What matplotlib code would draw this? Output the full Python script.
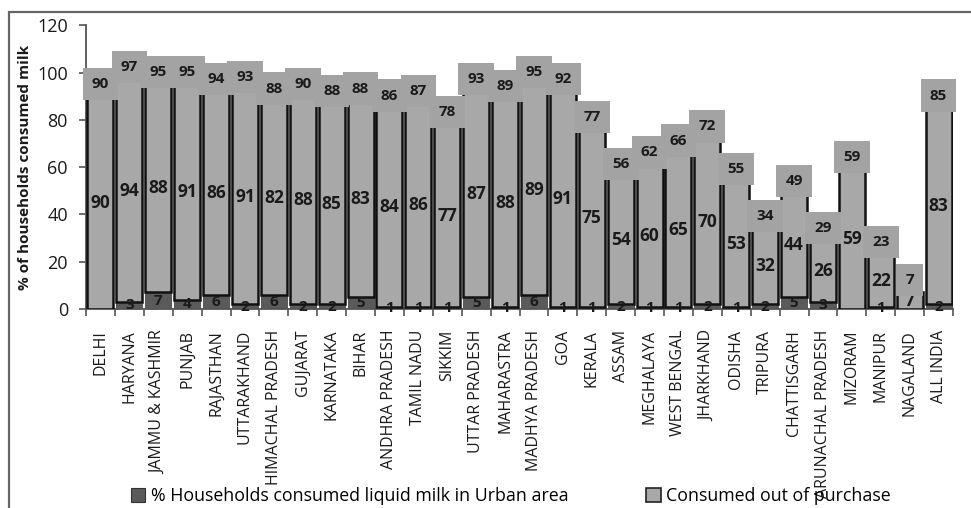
import matplotlib
matplotlib.use("Agg")
import matplotlib.pyplot as plt
import numpy as np
from matplotlib.patches import Rectangle, Patch

plt.rcParams['font.family'] = ['Open Sans', 'DejaVu Sans']

states = ["DELHI", "HARYANA", "JAMMU & KASHMIR", "PUNJAB", "RAJASTHAN", "UTTARAKHAND",
          "HIMACHAL PRADESH", "GUJARAT", "KARNATAKA", "BIHAR", "ANDHRA PRADESH", "TAMIL NADU",
          "SIKKIM", "UTTAR PRADESH", "MAHARASTRA", "MADHYA PRADESH", "GOA", "KERALA", "ASSAM",
          "MEGHALAYA", "WEST BENGAL", "JHARKHAND", "ODISHA", "TRIPURA", "CHATTISGARH",
          "ARUNACHAL PRADESH", "MIZORAM", "MANIPUR", "NAGALAND", "ALL INDIA"]
urban = [0, 3, 7, 4, 6, 2, 6, 2, 2, 5, 1, 1, 1, 5, 1, 6, 1, 1, 2, 1, 1, 2, 1, 2, 5, 3, 0, 1, 0, 2]
purchase = [90, 94, 88, 91, 86, 91, 82, 88, 85, 83, 84, 86, 77, 87, 88, 89, 91, 75, 54, 60,
            65, 70, 53, 32, 44, 26, 59, 22, 7, 83]
totals = [90, 97, 95, 95, 94, 93, 88, 90, 88, 88, 86, 87, 78, 93, 89, 95, 92, 77, 56, 62,
          66, 72, 55, 34, 49, 29, 59, 23, 7, 85]
yticks = [0, 20, 40, 60, 80, 100, 120]

dark = "#5a5a5a"
light = "#a8a8a8"
boxc = "#a3a3a3"
txt = "#1a1a1a"

fig = plt.figure(figsize=(9.71, 5.08), dpi=100)
ax = fig.add_axes([86/971, 1-309/508, 867/971, (309-25.4)/508])

x = np.arange(len(states))
u = np.array(urban, dtype=float)
p = np.array(purchase, dtype=float)
w = 0.9
ax.bar(x, u, width=w, color=dark, edgecolor=dark, linewidth=0.8, zorder=2)
ax.bar(x, p, width=w, bottom=u, color=light, edgecolor="#111111", linewidth=1.8, zorder=3)

for i in range(len(states)):
    if urban[i] > 0:
        ax.text(x[i], u[i]/2, str(urban[i]), ha='center', va='center', fontsize=11,
                fontweight='bold', color=txt, zorder=5)
    ax.text(x[i], u[i] + p[i]/2, str(purchase[i]), ha='center', va='center', fontsize=12.5,
            fontweight='bold', color=txt, zorder=5)
    ax.annotate(str(totals[i]), (x[i], u[i] + p[i]), xytext=(0, 9), textcoords='offset points',
                ha='center', va='center', fontsize=11, fontweight='bold', color=txt, zorder=6,
                bbox=dict(boxstyle='square,pad=0.6', facecolor=boxc, edgecolor='none'))

ax.set_xlim(-0.5, len(states) - 0.5)
ax.set_ylim(0, 120)
ax.set_yticks(yticks)
ax.set_yticklabels([str(t) for t in yticks], fontsize=13, color=txt)
ax.set_xticks(x)
ax.set_xticklabels(states, rotation=90, fontsize=11.5, color=txt, va='top')
ax.set_xticks(np.arange(-0.5, len(states), 1), minor=True)
ax.tick_params(axis='x', which='major', length=0, pad=15)
ax.tick_params(axis='x', which='minor', length=5, width=1.2, color="#555555", direction='out')
ax.tick_params(axis='y', length=5, width=1.2, color="#555555", pad=8)
for s in ['top', 'right']:
    ax.spines[s].set_visible(False)
for s in ['left', 'bottom']:
    ax.spines[s].set_color("#555555")
    ax.spines[s].set_linewidth(1.3)
ax.set_ylabel("% of households consumed milk", fontsize=11, fontweight='bold', color=txt)
ax.yaxis.set_label_coords(-(86-32)/867, 0.5)

handles = [Patch(facecolor=dark, edgecolor="#333333", linewidth=0.8),
           Patch(facecolor=light, edgecolor="#222222", linewidth=1.2)]
labels = ["% Households consumed liquid milk in Urban area", "Consumed out of purchase"]
fig.legend(handles, labels, loc='center left', bbox_to_anchor=(131/971, 1-496/508), ncol=2,
           frameon=False, fontsize=12.8, handlelength=0.8, handleheight=0.8,
           handletextpad=0.3, columnspacing=4.4, borderpad=0, borderaxespad=0)

fig.patches.append(Rectangle((9/971, -0.1), 1.2, 1.1 - 12/508, transform=fig.transFigure,
                             fill=False, edgecolor="#666666", linewidth=1.6, zorder=0))

fig.savefig("out.png", dpi=100)
